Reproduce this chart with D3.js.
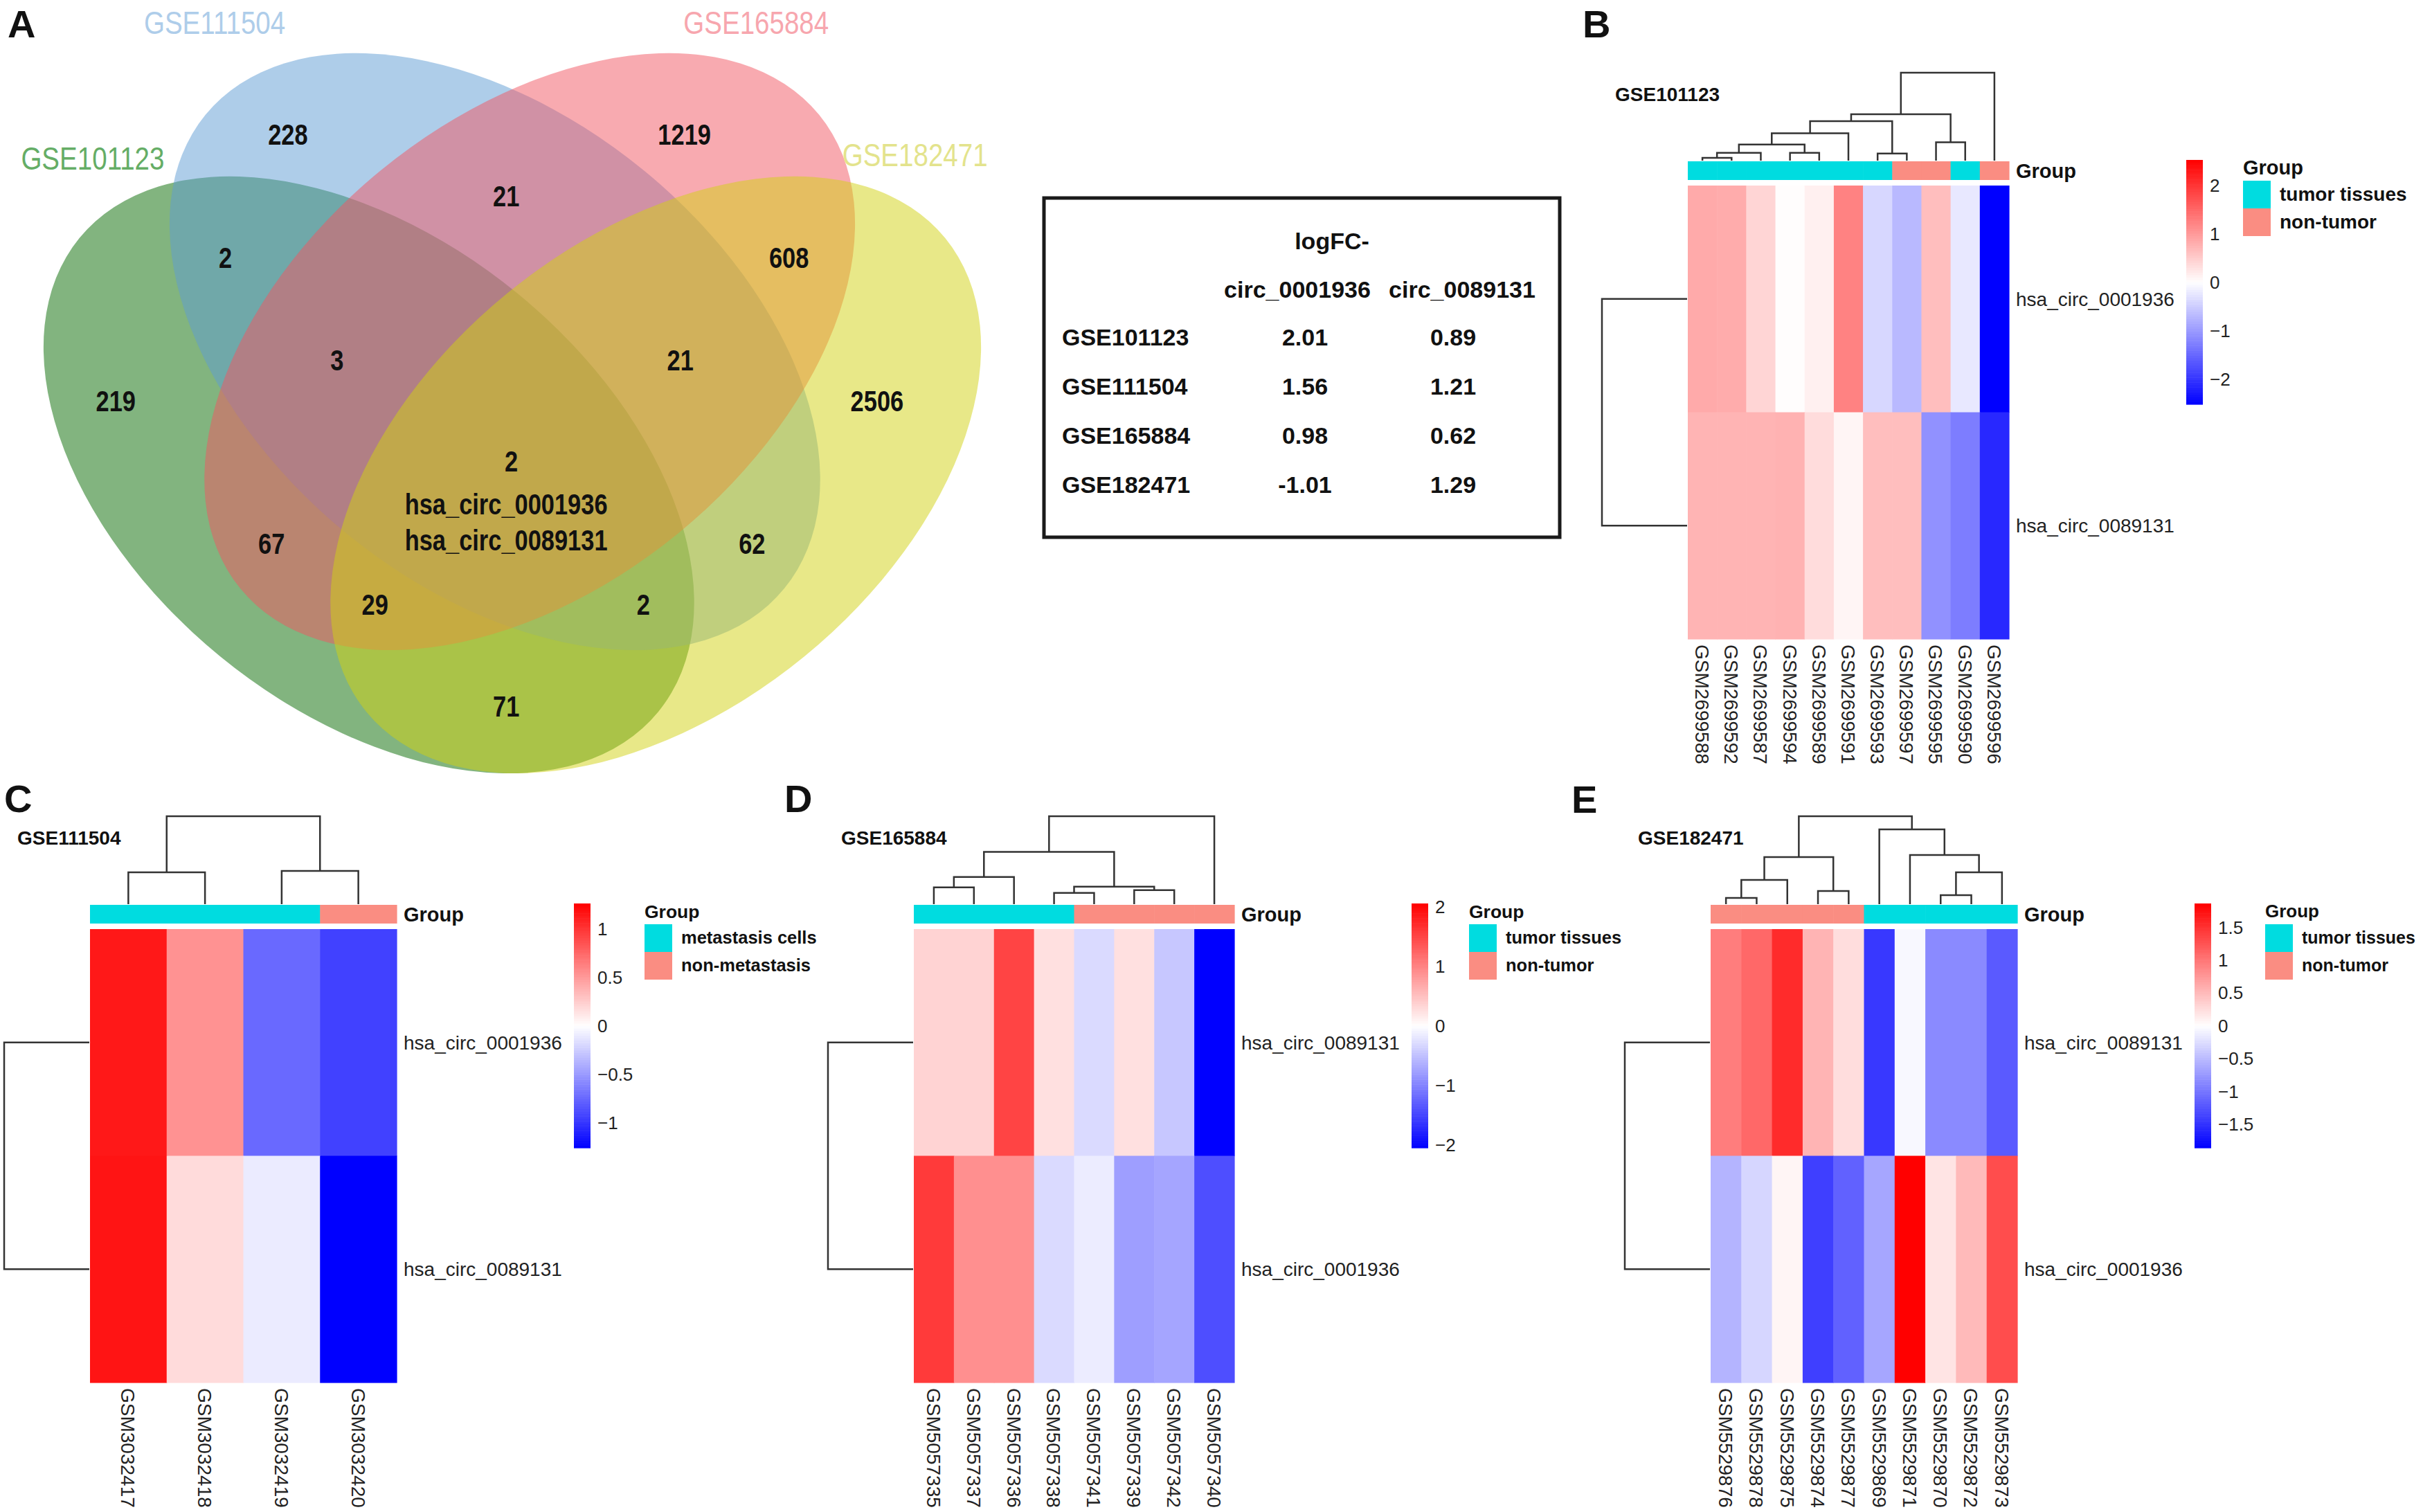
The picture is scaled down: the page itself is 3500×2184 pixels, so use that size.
<!DOCTYPE html>
<html>
<head>
<meta charset="utf-8">
<script src="https://cdn.jsdelivr.net/npm/d3@7"></script>
<style>
  body { margin: 0; background: #fff; }
  svg text { font-family: "Liberation Sans", Arial, Helvetica, sans-serif; fill: #111; }
</style>
</head>
<body>
<div id="fig"></div>
<script>
// ---------------------------------------------------------------- data ----------------------------------------------------------------
// A: Venn
const vennSetNames = ["GSE101123", "GSE111504", "GSE165884", "GSE182471"];
const vennRegions = ["A", "B", "C", "D", "AB", "BC", "CD", "ABC", "BCD", "AC", "BD", "ACD", "ABD", "AD", "ABCD"];
const vennCounts = [219, 228, 1219, 2506, 2, 21, 608, 3, 21, 67, 62, 29, 2, 71, 2];
const vennShared = ["hsa_circ_0001936", "hsa_circ_0089131"];

// logFC table
const tableDatasets = ["GSE101123", "GSE111504", "GSE165884", "GSE182471"];
const tableCircs = ["circ_0001936", "circ_0089131"];
const logFC_0001936 = [2.01, 1.56, 0.98, -1.01];
const logFC_0089131 = [0.89, 1.21, 0.62, 1.29];

// B: GSE101123
const samplesB = ["GSM2699588", "GSM2699592", "GSM2699587", "GSM2699594", "GSM2699589", "GSM2699591",
                  "GSM2699593", "GSM2699597", "GSM2699595", "GSM2699590", "GSM2699596"];
const groupB = ["tumor tissues", "tumor tissues", "tumor tissues", "tumor tissues", "tumor tissues", "tumor tissues",
                "tumor tissues", "non-tumor", "non-tumor", "tumor tissues", "non-tumor"];
const genesB = ["hsa_circ_0001936", "hsa_circ_0089131"];
const valuesB = [[0.84, 0.82, 0.42, 0.02, 0.15, 1.24, -0.40, -0.69, 0.64, -0.23, -2.52],
                 [0.74, 0.74, 0.74, 0.76, 0.35, 0.10, 0.64, 0.64, -1.09, -1.28, -2.12]];
const treeB = [[[[[[[0, 1, 4], 2, 11], [3, 4, 11], 23], 5, 39], [6, 7, 10], 56], [8, 9, 26], 66], 10, 125];
const ticksB = [2, 1, 0, -1, -2];
const limitB = 2.52;
const legendB = ["tumor tissues", "non-tumor"];

// C: GSE111504
const samplesC = ["GSM3032417", "GSM3032418", "GSM3032419", "GSM3032420"];
const groupC = ["metastasis cells", "metastasis cells", "metastasis cells", "non-metastasis"];
const genesC = ["hsa_circ_0001936", "hsa_circ_0089131"];
const valuesC = [[1.14, 0.54, -0.74, -0.94],
                 [1.16, 0.18, -0.10, -1.30]];
const treeC = [[0, 1, 46], [2, 3, 48], 127];
const ticksC = [1, 0.5, 0, -0.5, -1];
const limitC = 1.26;
const legendC = ["metastasis cells", "non-metastasis"];

// D: GSE165884
const samplesD = ["GSM5057335", "GSM5057337", "GSM5057336", "GSM5057338", "GSM5057341", "GSM5057339", "GSM5057342", "GSM5057340"];
const groupD = ["tumor tissues", "tumor tissues", "tumor tissues", "tumor tissues", "non-tumor", "non-tumor", "non-tumor", "non-tumor"];
const genesD = ["hsa_circ_0089131", "hsa_circ_0001936"];
const valuesD = [[0.35, 0.35, 1.50, 0.25, -0.30, 0.25, -0.45, -2.05],
                 [1.58, 0.90, 0.90, -0.30, -0.15, -0.78, -0.72, -1.42]];
const treeD = [[[[0, 1, 24], 2, 39], [[3, 4, 16], [5, 6, 20], 25], 75], 7, 126];
const ticksD = [2, 1, 0, -1, -2];
const limitD = 2.05;
const legendD = ["tumor tissues", "non-tumor"];

// E: GSE182471
const samplesE = ["GSM5529876", "GSM5529878", "GSM5529875", "GSM5529874", "GSM5529877",
                  "GSM5529869", "GSM5529871", "GSM5529870", "GSM5529872", "GSM5529873"];
const groupE = ["non-tumor", "non-tumor", "non-tumor", "non-tumor", "non-tumor",
                "tumor tissues", "tumor tissues", "tumor tissues", "tumor tissues", "tumor tissues"];
const genesE = ["hsa_circ_0089131", "hsa_circ_0001936"];
const valuesE = [[0.95, 1.10, 1.55, 0.55, 0.25, -1.45, -0.05, -0.85, -0.85, -1.20],
                 [-0.55, -0.30, 0.07, -1.40, -1.15, -0.65, 1.86, 0.20, 0.50, 1.30]];
const treeE = [[[[0, 1, 9], 2, 35], [3, 4, 19], 68], [5, [6, [[7, 8, 13], 9, 46], 71], 108], 127];
const ticksE = [1.5, 1, 0.5, 0, -0.5, -1, -1.5];
const limitE = 1.86;
const legendE = ["tumor tissues", "non-tumor"];

// ---------------------------------------------------------------- figure ----------------------------------------------------------------
const W = 3500, H = 2184;
const svg = d3.select("#fig").append("svg").attr("width", W).attr("height", H);
const minus = s => String(s).replace("-", "\u2212");

// panel letters
const letters = [["A", 11, 54], ["B", 2286, 54], ["C", 6, 1173], ["D", 1133, 1173], ["E", 2270, 1174]];
svg.selectAll("text.letter").data(letters).join("text").attr("class", "letter")
    .attr("x", d => d[1]).attr("y", d => d[2])
    .style("font-size", "56px").style("font-weight", "bold").text(d => d[0]);

// ---------- A: Venn ----------
const vs = d3.scaleLinear().domain([0, 1]).range([0, 1480]);
const vennFill = ["#056900", "#5d9bd3", "#f15561", "#d1d111"];
const vennText = ["#65ad66", "#aecdea", "#f7a6ae", "#e3e38c"];
const vennEllipse = [
    {cx: 0.360, cy: 0.4635, angle: 39.3},
    {cx: 0.483, cy: 0.3432, angle: 39.3},
    {cx: 0.517, cy: 0.3432, angle: -39.3},
    {cx: 0.640, cy: 0.4635, angle: -39.3}
];
const vennRx = 0.365, vennRy = 0.229;
const vennNamePos = [[0.0905, 0.154], [0.2095, 0.0216], [0.738, 0.0216], [0.893, 0.151]];
const vennLabelPos = {
    A: [0.113, 0.391], B: [0.281, 0.131], C: [0.668, 0.131], D: [0.856, 0.391],
    AB: [0.220, 0.251], BC: [0.494, 0.191], CD: [0.770, 0.251],
    ABC: [0.329, 0.351], BCD: [0.664, 0.351], AC: [0.265, 0.530], BD: [0.734, 0.530],
    ACD: [0.366, 0.590], ABD: [0.628, 0.590], AD: [0.494, 0.689], ABCD: [0.499, 0.450]
};

const venn = svg.append("g");
venn.selectAll("ellipse").data(vennEllipse).join("ellipse")
    .attr("cx", d => vs(d.cx)).attr("cy", d => vs(d.cy))
    .attr("rx", vs(vennRx)).attr("ry", vs(vennRy))
    .attr("transform", d => `rotate(${d.angle} ${vs(d.cx)} ${vs(d.cy)})`)
    .attr("fill", (d, i) => vennFill[i]).attr("fill-opacity", 0.5);

function narrow(sel, x, y) {
    return sel.attr("transform", `translate(${x},${y}) scale(0.82,1)`)
        .attr("text-anchor", "middle").attr("dy", "0.36em");
}
vennSetNames.forEach((name, i) => {
    narrow(venn.append("text"), vs(vennNamePos[i][0]), vs(vennNamePos[i][1]))
        .style("font-size", "47px").style("fill", vennText[i]).text(name);
});
vennRegions.forEach((r, i) => {
    const p = vennLabelPos[r];
    narrow(venn.append("text"), vs(p[0]), vs(p[1]))
        .style("font-size", "42px").style("font-weight", "bold").text(vennCounts[i]);
});
vennShared.forEach((name, i) => {
    narrow(venn.append("text"), vs(0.494), vs(0.492 + i * 0.035))
        .style("font-size", "42px").style("font-weight", "bold").text(name);
});

// ---------- logFC table ----------
const tab = svg.append("g");
tab.append("rect").attr("x", 1508).attr("y", 286).attr("width", 745).attr("height", 490)
    .attr("fill", "none").attr("stroke", "#1a1a1a").attr("stroke-width", 5);
const rowY = d3.scalePoint().domain(tableDatasets).range([487, 700]);
const headX = d3.scalePoint().domain(tableCircs).range([1874, 2112]);
const valX = d3.scalePoint().domain(tableCircs).range([1885, 2099]);
const tstyle = s => s.style("font-size", "34px").style("font-weight", "bold").attr("dy", "0.36em");
tstyle(tab.append("text")).attr("x", 1924).attr("y", 348).attr("text-anchor", "middle").text("logFC-");
tstyle(tab.selectAll("text.h").data(tableCircs).join("text").attr("class", "h"))
    .attr("x", d => headX(d)).attr("y", 418).attr("text-anchor", "middle").text(d => d);
tstyle(tab.selectAll("text.r").data(tableDatasets).join("text").attr("class", "r"))
    .attr("x", 1534).attr("y", d => rowY(d)).text(d => d);
[logFC_0001936, logFC_0089131].forEach((vals, c) => {
    tstyle(tab.selectAll(null).data(vals).join("text"))
        .attr("x", valX(tableCircs[c])).attr("y", (d, i) => rowY(tableDatasets[i]))
        .attr("text-anchor", "middle").text(d => d.toFixed(2));
});

// ---------- heatmaps ----------
const groupColors = ["#00dce0", "#fa8d82"];
const panels = [
    {samples: samplesB, group: groupB, genes: genesB, values: valuesB, tree: treeB, ticks: ticksB, limit: limitB,
     legend: legendB, title: "GSE101123", x0: 2438, x1: 2902, yA: 233, legendDx: 338, legendFont: 28},
    {samples: samplesC, group: groupC, genes: genesC, values: valuesC, tree: treeC, ticks: ticksC, limit: limitC,
     legend: legendC, title: "GSE111504", x0: 130, x1: 573, yA: 1307, legendDx: 358, legendFont: 25.5},
    {samples: samplesD, group: groupD, genes: genesD, values: valuesD, tree: treeD, ticks: ticksD, limit: limitD,
     legend: legendD, title: "GSE165884", x0: 1320, x1: 1783, yA: 1307, legendDx: 339, legendFont: 25.5},
    {samples: samplesE, group: groupE, genes: genesE, values: valuesE, tree: treeE, ticks: ticksE, limit: limitE,
     legend: legendE, title: "GSE182471", x0: 2471, x1: 2914, yA: 1307, legendDx: 358, legendFont: 25}
];

function drawHeatmap(p) {
    const g = svg.append("g");
    const yA = p.yA;
    const x = d3.scaleBand().domain(d3.range(p.samples.length)).range([p.x0, p.x1]);
    const y = d3.scaleBand().domain(p.genes).range([yA + 35, yA + 690]);
    const color = d3.scaleLinear().domain([-p.limit, 0, p.limit]).range(["#0000ff", "#ffffff", "#ff0000"]).clamp(true);
    const gcol = d3.scaleOrdinal().domain(p.legend).range(groupColors);

    // cells
    p.genes.forEach((gene, r) => {
        g.append("g").selectAll("rect").data(p.values[r]).join("rect")
            .attr("x", (d, i) => x(i)).attr("y", y(gene))
            .attr("width", x.bandwidth() + 0.6).attr("height", y.bandwidth() + 0.6)
            .attr("fill", d => color(d));
    });

    // group annotation
    g.append("g").selectAll("rect").data(p.group).join("rect")
        .attr("x", (d, i) => x(i)).attr("y", yA).attr("width", x.bandwidth() + 0.6).attr("height", 27)
        .attr("fill", d => gcol(d));

    // column dendrogram
    const hs = d3.scaleLinear().domain([0, p.tree[2]]).range([yA - 1, yA - 128]);
    const paths = [];
    (function walk(node) {
        if (typeof node === "number") return {x: x(node) + x.bandwidth() / 2, h: 0};
        const l = walk(node[0]), r = walk(node[1]);
        paths.push(`M${l.x},${hs(l.h)}V${hs(node[2])}H${r.x}V${hs(r.h)}`);
        return {x: (l.x + r.x) / 2, h: node[2]};
    })(p.tree);
    g.append("g").selectAll("path").data(paths).join("path").attr("d", d => d)
        .attr("fill", "none").attr("stroke", "#333").attr("stroke-width", 2.5);

    // row dendrogram
    const rx = d3.scaleLinear().domain([0, 1]).range([p.x0 - 1, p.x0 - 124]);
    const yc = p.genes.map(gn => y(gn) + y.bandwidth() / 2);
    g.append("path").attr("d", `M${rx(0)},${yc[0]}H${rx(1)}V${yc[1]}H${rx(0)}`)
        .attr("fill", "none").attr("stroke", "#333").attr("stroke-width", 2.5);

    // texts
    g.append("text").attr("x", p.x0 - 105).attr("y", yA - 97).attr("dy", "0.36em")
        .style("font-size", "28px").style("font-weight", "bold").text(p.title);
    g.append("text").attr("x", p.x1 + 10).attr("y", yA + 14).attr("dy", "0.36em")
        .style("font-size", "29px").style("font-weight", "bold").text("Group");
    g.selectAll("text.gene").data(p.genes).join("text").attr("class", "gene")
        .attr("x", p.x1 + 10).attr("y", d => y(d) + y.bandwidth() / 2).attr("dy", "0.36em")
        .style("font-size", "28px").style("fill", "#222").text(d => d);
    g.selectAll("text.sample").data(p.samples).join("text").attr("class", "sample")
        .attr("transform", (d, i) => `translate(${x(i) + x.bandwidth() / 2},${yA + 698}) rotate(90)`)
        .attr("dy", "0.36em").style("font-size", "28px").style("fill", "#222").text(d => d);

    // colour bar
    const cbx = p.x1 + 256;
    const cy = d3.scaleLinear().domain([-p.limit, p.limit]).range([yA + 351, yA - 2]);
    const steps = d3.range(0, 100).map(i => -p.limit + (i + 0.5) * 2 * p.limit / 100);
    const stepH = (cy(-p.limit) - cy(p.limit)) / 100;
    g.append("g").selectAll("rect").data(steps).join("rect")
        .attr("x", cbx).attr("width", 24)
        .attr("y", d => cy(d) - stepH / 2).attr("height", stepH + 0.6)
        .attr("fill", d => color(d));
    g.selectAll("text.tick").data(p.ticks).join("text").attr("class", "tick")
        .attr("x", cbx + 34).attr("y", d => cy(d)).attr("dy", "0.36em")
        .style("font-size", "26px").style("fill", "#222").text(d => minus(d));

    // group legend
    const lx = p.x1 + p.legendDx;
    g.append("text").attr("x", lx).attr("y", yA + 9).attr("dy", "0.36em")
        .style("font-size", (p.legendFont + 1) + "px").style("font-weight", "bold").text("Group");
    g.selectAll("rect.sw").data(p.legend).join("rect").attr("class", "sw")
        .attr("x", lx).attr("y", (d, i) => yA + 28 + i * 40).attr("width", 40).attr("height", 40)
        .attr("fill", d => gcol(d));
    g.selectAll("text.lg").data(p.legend).join("text").attr("class", "lg")
        .attr("x", lx + 53).attr("y", (d, i) => yA + 47 + i * 40).attr("dy", "0.36em")
        .style("font-size", p.legendFont + "px").style("font-weight", "bold").text(d => d);
}
panels.forEach(drawHeatmap);
</script>
</body>
</html>
